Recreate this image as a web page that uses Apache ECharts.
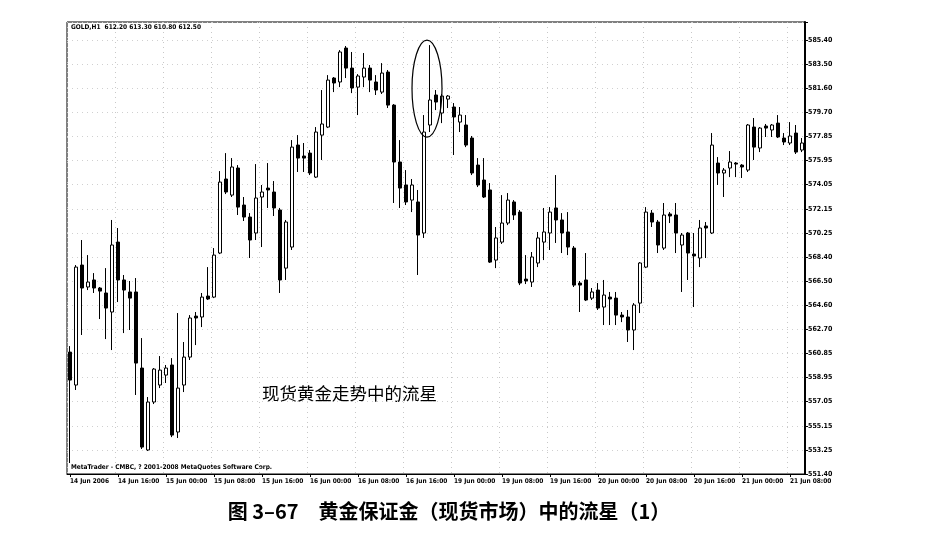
<!DOCTYPE html>
<html>
<head>
<meta charset="utf-8">
<script src="https://cdn.jsdelivr.net/npm/echarts@6/dist/echarts.min.js"></script>
<style>
  html, body { margin: 0; padding: 0; background: #fff; }
  #chart { width: 929px; height: 545px; }
</style>
</head>
<body>
<div id="chart"></div>
<script>
// GOLD H1, 14 Jun 08:00 .. 21 Jun 10:00 (2006)
var openPrices = [
  560.95, 558.37, 567.77, 566.05, 566.60, 565.97, 565.58, 564.09, 569.57, 566.60,
  565.66, 565.66, 559.70, 553.28, 557.04, 558.37, 559.15, 559.94, 554.69, 558.37,
  560.56, 563.77, 563.70, 565.34, 565.26, 568.71, 574.51, 573.25, 575.37, 572.47,
  571.53, 570.28, 573.10, 573.80, 573.49, 572.08, 567.53, 569.18, 577.17, 576.31,
  576.54, 574.66, 577.95, 578.58, 582.42, 582.11, 584.77, 583.20, 581.71, 582.50,
  583.20, 582.11, 581.32, 582.89, 580.30, 575.84, 574.04, 572.86, 572.71, 570.28,
  578.74, 581.09, 579.68, 580.77, 580.15, 578.97, 578.74, 577.72, 575.60, 574.43,
  573.65, 568.16, 569.57, 571.06, 572.71, 571.92, 566.67, 566.44, 567.93, 569.57,
  570.28, 572.24, 571.30, 570.36, 569.10, 566.36, 566.60, 565.18, 565.81, 564.48,
  565.26, 565.18, 563.85, 563.70, 562.68, 564.79, 567.61, 571.84, 571.14, 569.10,
  571.77, 571.69, 569.34, 570.28, 568.63, 568.32, 570.83, 570.28, 575.76, 574.98,
  575.37, 575.76, 575.60, 575.21, 578.58, 576.94, 578.66, 578.35, 578.89, 577.72,
  577.33, 578.11, 576.78
];
var closePrices = [
  558.76, 567.61, 565.97, 566.44, 565.97, 565.73, 564.40, 569.34, 566.60, 565.81,
  565.18, 560.09, 553.51, 557.04, 559.62, 559.54, 559.70, 554.45, 558.13, 560.56,
  563.62, 563.62, 565.26, 565.11, 568.55, 574.27, 573.49, 575.45, 572.31, 571.53,
  569.73, 573.02, 573.49, 573.65, 572.24, 566.60, 571.14, 577.01, 576.15, 576.15,
  574.98, 578.19, 578.82, 582.26, 582.03, 584.46, 583.20, 581.64, 582.58, 583.20,
  582.26, 581.48, 582.81, 580.30, 575.84, 573.80, 572.71, 574.04, 570.12, 578.19,
  580.70, 580.54, 581.01, 581.01, 579.37, 579.52, 577.17, 574.98, 574.04, 573.10,
  568.00, 569.89, 571.06, 572.86, 571.69, 566.36, 566.52, 568.40, 569.89, 570.36,
  571.92, 571.30, 570.28, 569.18, 566.20, 566.20, 565.03, 565.66, 564.40, 565.42,
  565.11, 563.85, 563.70, 562.68, 564.64, 567.93, 571.92, 571.14, 569.34, 571.69,
  571.61, 570.28, 570.12, 568.71, 568.48, 570.67, 570.67, 577.17, 574.98, 575.21,
  575.84, 575.68, 575.45, 578.74, 577.01, 578.50, 578.50, 578.74, 577.80, 577.41,
  577.88, 576.62, 577.33
];
var lowPrices = [
  552.26, 557.98, 562.29, 565.81, 565.58, 563.54, 561.97, 561.11, 564.87, 562.44,
  562.68, 557.59, 553.36, 553.20, 556.88, 558.13, 558.53, 554.29, 554.22, 557.82,
  560.33, 561.50, 562.91, 565.03, 565.18, 568.63, 573.33, 573.10, 571.69, 571.22,
  568.32, 569.73, 569.18, 572.24, 571.61, 565.58, 566.60, 568.95, 575.06, 575.06,
  574.82, 574.59, 576.00, 578.50, 581.32, 581.71, 582.42, 581.24, 579.52, 581.71,
  581.32, 581.09, 581.17, 580.07, 572.63, 572.24, 572.47, 571.92, 566.99, 569.89,
  578.19, 579.91, 578.89, 580.07, 576.39, 578.19, 577.01, 574.82, 573.88, 573.02,
  567.93, 567.53, 569.42, 570.90, 571.30, 566.20, 566.28, 566.05, 567.61, 568.16,
  568.95, 569.50, 568.71, 568.55, 566.05, 564.09, 564.95, 565.03, 564.25, 563.07,
  563.07, 563.07, 563.30, 561.74, 561.11, 564.01, 567.53, 570.75, 568.71, 568.95,
  571.06, 568.71, 565.66, 566.60, 564.48, 567.61, 568.32, 570.20, 574.04, 573.10,
  574.66, 574.66, 574.59, 575.06, 576.00, 576.62, 577.80, 577.80, 577.72, 577.17,
  577.17, 576.47, 576.62
];
var highPrices = [
  561.42, 567.77, 569.73, 568.55, 567.14, 566.05, 567.53, 571.30, 570.67, 566.99,
  566.52, 566.75, 562.05, 557.43, 559.70, 560.64, 559.94, 560.48, 564.01, 561.74,
  563.85, 564.09, 565.58, 567.61, 569.10, 575.13, 576.54, 576.15, 575.60, 573.10,
  571.84, 575.68, 574.04, 575.76, 574.35, 572.24, 571.30, 577.56, 577.95, 577.33,
  576.78, 578.58, 581.48, 582.65, 582.50, 584.61, 584.93, 584.46, 582.73, 584.38,
  583.44, 582.65, 583.59, 583.05, 580.38, 577.56, 575.21, 574.51, 573.65, 579.52,
  585.00, 581.48, 581.17, 581.09, 580.46, 580.15, 579.52, 577.88, 576.15, 576.15,
  574.19, 570.75, 573.25, 573.41, 572.86, 572.08, 568.55, 568.79, 570.36, 572.24,
  572.31, 574.82, 571.84, 571.92, 569.26, 566.52, 568.71, 565.97, 566.36, 566.60,
  565.66, 565.66, 564.09, 564.25, 564.79, 568.00, 572.31, 572.08, 571.30, 572.63,
  571.92, 572.63, 570.28, 570.36, 570.28, 571.30, 571.14, 578.11, 576.23, 575.37,
  576.70, 575.84, 575.68, 578.82, 579.29, 578.58, 578.82, 578.82, 579.52, 578.11,
  578.97, 578.74, 577.72
];

// one label every 8 bars (H1)
var xTickLabels = [
  '14 Jun 2006', '14 Jun 16:00', '15 Jun 00:00', '15 Jun 08:00', '15 Jun 16:00',
  '16 Jun 00:00', '16 Jun 08:00', '16 Jun 16:00', '19 Jun 00:00', '19 Jun 08:00',
  '19 Jun 16:00', '20 Jun 00:00', '20 Jun 08:00', '20 Jun 16:00', '21 Jun 00:00',
  '21 Jun 08:00'
];
var yTickLabels = [
  '551.40', '553.25', '555.15', '557.05', '558.95', '560.85', '562.70', '564.60',
  '566.50', '568.40', '570.25', '572.15', '574.05', '575.95', '577.85', '579.70',
  '581.60', '583.50', '585.40'
];
var yMin = 551.40, yMaxTick = 585.40, yTop = 586.81;
var yStep = (yMaxTick - yMin) / (yTickLabels.length - 1);

var starBar = 60; // the shooting star

var categories = openPrices.map(function (v, i) { return i; });
var candles = openPrices.map(function (o, i) {
  return [o, closePrices[i], lowPrices[i], highPrices[i]];
});

var smallFont = 'DejaVu Sans Condensed';

var chart = echarts.init(document.getElementById('chart'));
chart.setOption({
  backgroundColor: '#fff',
  animation: false,
  grid: {
    left: 67, right: 124, top: 22, bottom: 71,
    show: true, borderColor: '#000', borderWidth: 1
  },
  xAxis: {
    type: 'category',
    data: categories,
    boundaryGap: true,
    axisLine: { show: true, lineStyle: { color: '#000', width: 1 } },
    axisTick: {
      show: true, alignWithLabel: true, length: 3,
      interval: function (idx) { return idx % 8 === 0; },
      lineStyle: { color: '#000' }
    },
    axisLabel: {
      interval: function (idx) { return idx % 8 === 0; },
      formatter: function (v, idx) { return xTickLabels[idx / 8] || ''; },
      align: 'left',
      margin: 4,
      color: '#000',
      fontFamily: smallFont,
      fontWeight: 'bold',
      fontSize: 6.5
    },
    splitLine: {
      show: true,
      interval: function (idx) { return idx % 8 === 0; },
      lineStyle: { color: '#c8c8c8', type: [1, 4], width: 1 }
    }
  },
  yAxis: {
    type: 'value',
    position: 'right',
    min: yMin,
    max: yTop,
    interval: yStep,
    scale: true,
    axisLine: { show: true, lineStyle: { color: '#000', width: 2 } },
    axisTick: { show: true, length: 3, lineStyle: { color: '#000' } },
    axisLabel: {
      margin: 3,
      color: '#000',
      fontFamily: smallFont,
      fontWeight: 'bold',
      fontSize: 7,
      formatter: function (v) {
        var k = (v - yMin) / yStep;
        var r = Math.round(k);
        if (Math.abs(k - r) > 0.01) return '';
        return yTickLabels[r] || '';
      }
    },
    splitLine: { show: true, lineStyle: { color: '#d0d0d0', type: [1, 4], width: 1 } }
  },
  series: [{
    type: 'candlestick',
    data: candles,
    barWidth: 4,
    itemStyle: {
      color: '#fff',
      color0: '#000',
      borderColor: '#000',
      borderColor0: '#000',
      borderWidth: 1
    }
  }],
  graphic: [
    {
      type: 'text', left: 71, top: 24,
      style: {
        text: 'GOLD,H1  612.20 613.30 610.80 612.50',
        fill: '#000', font: 'bold 6.5px "' + smallFont + '"'
      }
    },
    {
      type: 'text', left: 71, top: 464,
      style: {
        text: 'MetaTrader - CMBC, ? 2001-2008 MetaQuotes Software Corp.',
        fill: '#000', font: 'bold 6.5px "' + smallFont + '"'
      }
    },
    {
      type: 'text', left: 262, top: 385,
      style: {
        text: '现货黄金走势中的流星',
        fill: '#000', font: '17.5px "Noto Sans CJK SC"'
      }
    },
    {
      type: 'text', x: 449, y: 511,
      style: {
        text: '图 3–67　黄金保证金（现货市场）中的流星（1）',
        fill: '#000', font: 'bold 20px "Noto Sans CJK SC"',
        textAlign: 'center', textVerticalAlign: 'middle'
      }
    }
  ]
});

// ellipse that marks the shooting star, placed from the data
var pA = chart.convertToPixel({ gridIndex: 0 }, [starBar - 1, closePrices[starBar - 1]]);
var pB = chart.convertToPixel({ gridIndex: 0 }, [starBar, highPrices[starBar]]);
var cx = (pA[0] + pB[0]) / 2;
var cy = (pA[1] + pB[1]) / 2;
var ry = Math.abs(pA[1] - pB[1]) / 2 + 5;
chart.setOption({
  graphic: [{
    id: 'starMark',
    type: 'ellipse',
    shape: { cx: cx, cy: cy, rx: 15, ry: ry },
    style: { fill: 'none', stroke: '#000', lineWidth: 1.2 },
    z: 10
  }]
});
</script>
</body>
</html>
